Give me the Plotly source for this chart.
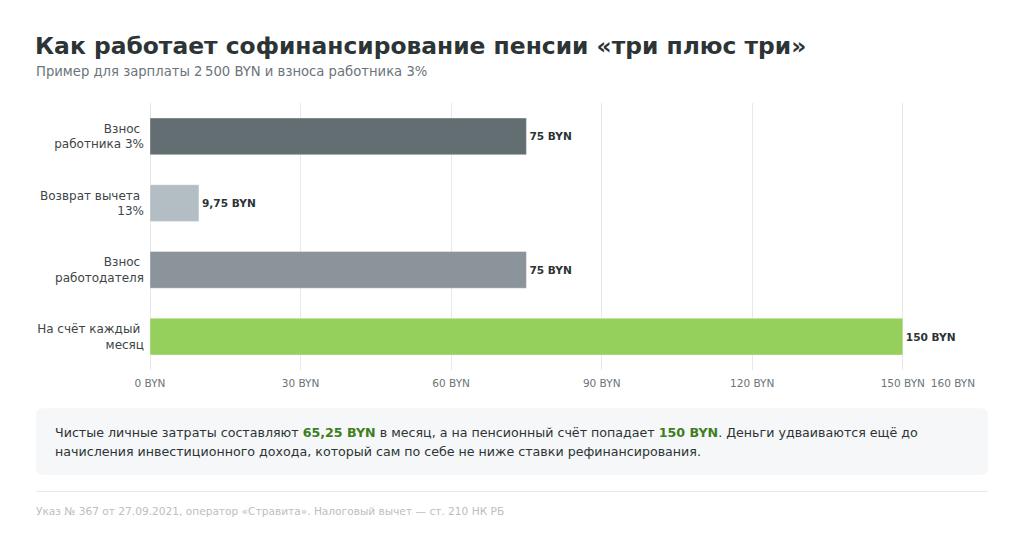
import plotly.graph_objects as go

categories = ["Взнос\u00a0<br>работника 3%", "Возврат вычета\u00a0<br>13%", "Взнос\u00a0<br>работодателя", "На счёт каждый\u00a0<br>месяц"]
values = [75, 9.75, 75, 150]
bar_colors = ["#636e72", "#b2bec3", "#8b949a", "#95cf5c"]
tick_vals = [0, 30, 60, 90, 120, 150, 160]
tick_text = [f"{v} BYN" for v in tick_vals]
labels = [f"{v:g} BYN".replace(".", ",") for v in values]

W, H = 1024, 543
L, R, T, B = 150, 953, 102.5, 370.5

def px(x):
    return (x - L) / (R - L)

def py(y):
    return (B - y) / (B - T)

fig = go.Figure()
fig.add_trace(go.Bar(
    y=categories, x=values, orientation="h",
    marker=dict(color=bar_colors, line=dict(width=1, color="rgba(255,255,255,0.35)")),
    width=0.55,
    text=labels, textposition="outside", cliponaxis=False, constraintext="none",
    textfont=dict(family="DejaVu Sans", size=10.6, color="#2d3436"),
    texttemplate="<b>%{text}</b>",
    hoverinfo="skip",
))

fig.update_layout(
    width=W, height=H,
    margin=dict(l=L, r=W - R, t=T, b=H - B, pad=0),
    paper_bgcolor="#ffffff", plot_bgcolor="#ffffff",
    showlegend=False,
    font=dict(family="DejaVu Sans", color="#3d4548"),
    bargap=0.45,
)
fig.update_xaxes(
    range=[0, 160], tickvals=tick_vals, ticktext=tick_text,
    showgrid=True, gridcolor="#e4e9eb", gridwidth=1,
    zeroline=True, zerolinecolor="#e4e9eb", zerolinewidth=1,
    showline=False, ticks="", ticklabelstandoff=5,
    tickfont=dict(family="DejaVu Sans", size=10.5, color="#6b7479"),
)
fig.update_yaxes(
    autorange="reversed", showgrid=False, showline=False, ticks="",
    ticklabelstandoff=5,
    tickfont=dict(family="DejaVu Sans", size=12, color="#3d4548"),
)

# Note box (rounded rectangle)
x0, x1, y0, y1, r = 36, 988, 409, 476, 8
def pt(x, y):
    return f"{px(x)},{py(y)}"
path = (f"M {pt(x0 + r, y0)} L {pt(x1 - r, y0)} Q {pt(x1, y0)} {pt(x1, y0 + r)} "
        f"L {pt(x1, y1 - r)} Q {pt(x1, y1)} {pt(x1 - r, y1)} L {pt(x0 + r, y1)} "
        f"Q {pt(x0, y1)} {pt(x0, y1 - r)} L {pt(x0, y0 + r)} Q {pt(x0, y0)} {pt(x0 + r, y0)} Z")
fig.add_shape(type="path", path=path, xref="paper", yref="paper",
              fillcolor="#f5f7f8", line=dict(width=0), layer="below")
fig.add_shape(type="line", xref="paper", yref="paper",
              x0=px(36), x1=px(988), y0=py(492.5), y1=py(492.5),
              line=dict(color="#e6e9eb", width=1))

def ann(text, x, y, size, color, bold=False):
    fig.add_annotation(
        text=f"<b>{text}</b>" if bold else text,
        xref="paper", yref="paper", x=px(x), y=py(y),
        xanchor="left", yanchor="middle", showarrow=False,
        font=dict(family="DejaVu Sans", size=size, color=color), align="left",
    )

ann("Как работает софинансирование пенсии «три плюс три»", 33, 45, 23.4, "#2d3436", bold=True)
ann("Пример для зарплаты 2\u202f500 BYN и взноса работника 3%", 34, 71, 13.2, "#6b7479")

g = "#3f7d1e"
line1 = (f"Чистые личные затраты составляют <b><span style='color:{g}'>65,25 BYN</span></b> в месяц, "
         f"а на пенсионный счёт попадает <b><span style='color:{g}'>150 BYN</span></b>. Деньги удваиваются ещё до")
line2 = "начисления инвестиционного дохода, который сам по себе не ниже ставки рефинансирования."
ann(line1, 53, 433, 12.65, "#2d3436")
ann(line2, 53, 452, 12.65, "#2d3436")
ann("Указ № 367 от 27.09.2021, оператор «Стравита». Налоговый вычет — ст. 210 НК РБ", 34, 512, 10.6, "#b9c0c4")

fig.write_html("out.html")
